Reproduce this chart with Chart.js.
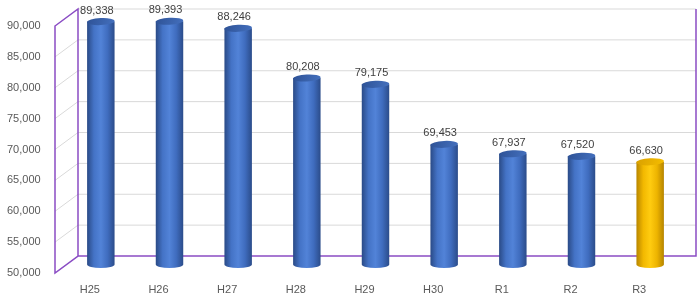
<!DOCTYPE html>
<html>
<head>
<meta charset="utf-8">
<script src="https://cdn.jsdelivr.net/npm/chart.js@4/dist/chart.umd.min.js"></script>
<style>
  html, body { margin: 0; padding: 0; background: #fff; }
  .chart-container { position: relative; width: 700px; height: 303px; }
</style>
</head>
<body>
<div class="chart-container">
  <canvas id="trendChart"></canvas>
</div>
<script>
const categories = ['H25', 'H26', 'H27', 'H28', 'H29', 'H30', 'R1', 'R2', 'R3'];
const values = [89338, 89393, 88246, 80208, 79175, 69453, 67937, 67520, 66630];
const yMin = 50000;
const yMax = 90000;
const yStep = 5000;

// depth offsets of the fake 3D box (front / back planes vs. the bar plane)
const DX = 11.5;
const DY = 8.5;
const PURPLE = '#8A4CC4';
const GRID = '#D9D9D9';

const blueStyle = {
  stops: ['#2A4A86', '#4473C6', '#5283D8', '#3F6CBE', '#2B4C8A'],
  top: ['#2E5296', '#4470BE'],
};
const goldStyle = {
  stops: ['#B88600', '#F2B800', '#FFCC10', '#EDB400', '#B58400'],
  top: ['#D9A000', '#F5BE00'],
};
const fmt = (v) => v.toLocaleString('en-US');

const wallPlugin = {
  id: 'walls',
  beforeDatasetsDraw(chart) {
    const { ctx, chartArea: a, scales: { y } } = chart;
    const backL = a.left + DX, backR = a.right + DX, frontL = a.left - DX;
    ctx.save();
    ctx.lineWidth = 1;
    ctx.strokeStyle = GRID;
    y.ticks.forEach((t) => {
      if (t.value === yMin) return;
      const py = y.getPixelForValue(t.value);
      ctx.beginPath();
      ctx.moveTo(backL, py - DY);
      ctx.lineTo(backR, py - DY);
      if (t.value !== yMax) {
        ctx.moveTo(frontL, py + DY);
        ctx.lineTo(backL, py - DY);
      }
      ctx.stroke();
    });

    const pTop = y.getPixelForValue(yMax);
    const pBot = y.getPixelForValue(yMin);
    ctx.strokeStyle = PURPLE;
    ctx.lineWidth = 1.5;
    ctx.beginPath();
    // side wall outline
    ctx.moveTo(frontL, pTop + DY);
    ctx.lineTo(backL, pTop - DY);
    ctx.lineTo(backL, pBot - DY);
    ctx.lineTo(frontL, pBot + DY);
    ctx.closePath();
    // floor back edge + right edge
    ctx.moveTo(backL, pBot - DY);
    ctx.lineTo(backR, pBot - DY);
    ctx.lineTo(backR, pTop - DY);
    ctx.stroke();
    ctx.restore();
  },
};

const cylinderPlugin = {
  id: 'cylinders',
  afterDatasetsDraw(chart) {
    const { ctx, scales: { y: yScale } } = chart;
    const base = yScale.getPixelForValue(yMin);
    const meta = chart.getDatasetMeta(0);
    meta.data.forEach((bar, i) => {
      const style = i === values.length - 1 ? goldStyle : blueStyle;
      const { x, y, width } = bar.getProps(['x', 'y', 'width'], true);
      const rx = width / 2;
      const ry = 3.5;
      ctx.save();
      const g = ctx.createLinearGradient(x - rx, 0, x + rx, 0);
      style.stops.forEach((c, k) => g.addColorStop(k / (style.stops.length - 1), c));
      ctx.fillStyle = g;
      ctx.beginPath();
      ctx.moveTo(x - rx, y);
      ctx.lineTo(x - rx, base);
      ctx.ellipse(x, base, rx, ry, 0, Math.PI, 0, true);
      ctx.lineTo(x + rx, y);
      ctx.closePath();
      ctx.fill();

      const tg = ctx.createLinearGradient(x - rx, y - ry, x + rx, y + ry);
      tg.addColorStop(0, style.top[0]);
      tg.addColorStop(1, style.top[1]);
      ctx.fillStyle = tg;
      ctx.beginPath();
      ctx.ellipse(x, y, rx, ry, -0.05, 0, Math.PI * 2);
      ctx.fill();

      ctx.fillStyle = '#404040';
      ctx.font = '11px "Liberation Sans", Arial, sans-serif';
      ctx.textAlign = 'center';
      ctx.textBaseline = 'middle';
      ctx.fillText(fmt(values[i]), x - 4, y - 11);
      ctx.restore();
    });
  },
};

const ctx = document.getElementById('trendChart').getContext('2d');
new Chart(ctx, {
  type: 'bar',
  data: {
    labels: categories,
    datasets: [
      {
        data: values,
        backgroundColor: 'rgba(0,0,0,0)',
        borderWidth: 0,
        barPercentage: 0.4,
        categoryPercentage: 1,
      },
    ],
  },
  options: {
    responsive: true,
    maintainAspectRatio: false,
    animation: false,
    layout: { padding: { top: 17.5, right: 15.5, left: 7, bottom: 0 } },
    plugins: {
      legend: { display: false },
      tooltip: { enabled: false },
    },
    scales: {
      x: {
        grid: { display: false, drawTicks: false },
        border: { display: false },
        ticks: {
          color: '#595959',
          font: { family: '"Liberation Sans", Arial, sans-serif', size: 11 },
          padding: 19,
          labelOffset: -11,
          maxRotation: 0,
        },
        afterFit: (scale) => { scale.height = 38.5; },
      },
      y: {
        min: yMin,
        max: yMax,
        grid: { display: false, drawTicks: false },
        border: { display: false },
        ticks: {
          stepSize: yStep,
          color: '#595959',
          font: { family: '"Liberation Sans", Arial, sans-serif', size: 11 },
          padding: 0,
          crossAlign: 'far',
          labelOffset: DY,
          callback: (v) => fmt(v),
        },
        afterFit: (scale) => { scale.width = 59.5; },
      },
    },
  },
  plugins: [wallPlugin, cylinderPlugin],
});
</script>
</body>
</html>
